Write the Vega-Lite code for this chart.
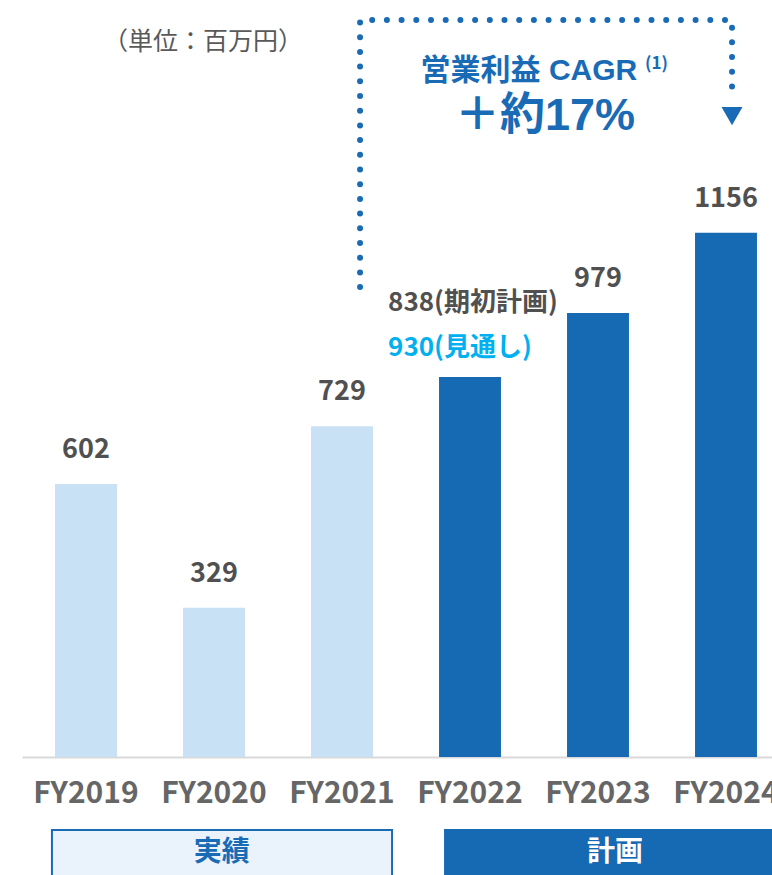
{
  "$schema": "https://vega.github.io/schema/vega-lite/v6.json",
  "width": 772,
  "height": 757,
  "autosize": {"type": "none"},
  "padding": {"left": 0, "top": 0, "right": 0, "bottom": 118},
  "background": "white",
  "config": {"view": {"stroke": null}, "font": "Noto Sans CJK JP"},
  "datasets": {
    "bars": [
      {"year": "FY2019", "value": 602, "type": "実績", "label": "602"},
      {"year": "FY2020", "value": 329, "type": "実績", "label": "329"},
      {"year": "FY2021", "value": 729, "type": "実績", "label": "729"},
      {"year": "FY2022", "value": 838, "type": "計画", "label": ""},
      {"year": "FY2023", "value": 979, "type": "計画", "label": "979"},
      {"year": "FY2024", "value": 1156, "type": "計画", "label": "1156"}
    ],
    "path": [
      {"order": 1, "xi": 2.141, "v": 1036},
      {"order": 2, "xi": 2.141, "v": 1625},
      {"order": 3, "xi": 5.047, "v": 1625},
      {"order": 4, "xi": 5.047, "v": 1455}
    ],
    "boxes": [
      {"name": "実績", "x1": -0.266, "x2": 2.391, "y1": -161, "y2": -266, "tx": 1.06, "ty": -212},
      {"name": "計画", "x1": 2.805, "x2": 5.6, "y1": -161, "y2": -266, "tx": 4.133, "ty": -212}
    ]
  },
  "layer": [
    {
      "data": {"name": "bars"},
      "mark": {"type": "bar"},
      "encoding": {
        "x": {"field": "year", "type": "nominal", "sort": null,
          "scale": {"range": [22, 790], "paddingInner": 0.516, "paddingOuter": 0.258},
          "axis": {"title": null, "ticks": false, "labelAngle": 0, "labelFontSize": 30, "labelFontWeight": "bold",
            "labelColor": "#666666", "labelPadding": 21, "domainColor": "#d9d9d9", "domainWidth": 2, "labelFont": "Noto Sans CJK JP"}},
        "y": {"field": "value", "type": "quantitative", "scale": {"domain": [0, 1669], "nice": false, "zero": true}, "axis": null},
        "color": {"field": "type", "type": "nominal", "scale": {"domain": ["実績", "計画"], "range": ["#c8e1f5", "#166ab3"]}, "legend": null}
      }
    },
    {
      "data": {"name": "bars"},
      "mark": {"type": "text", "dy": -34, "fontSize": 27, "fontWeight": "bold", "color": "#505050", "baseline": "middle"},
      "encoding": {
        "x": {"field": "year", "type": "nominal", "sort": null,
          "scale": {"range": [22, 790], "paddingInner": 0.516, "paddingOuter": 0.258}, "axis": null},
        "y": {"field": "value", "type": "quantitative", "scale": {"domain": [0, 1669], "nice": false}, "axis": null},
        "text": {"field": "label"}
      }
    },
    {
      "data": {"values": [
        {"t": "838(期初計画)", "xi": 2.36, "v": 1001, "kind": "plan"},
        {"t": "930(見通し)", "xi": 2.36, "v": 902, "kind": "outlook"}
      ]},
      "mark": {"type": "text", "align": "left", "baseline": "middle", "fontSize": 26, "fontWeight": "bold"},
      "encoding": {
        "x": {"field": "xi", "type": "quantitative", "scale": {"domain": [-0.5, 5.5], "range": [22, 790], "nice": false, "zero": false}, "axis": null},
        "y": {"field": "v", "type": "quantitative", "scale": {"domain": [0, 1669], "nice": false}, "axis": null},
        "text": {"field": "t"},
        "color": {"field": "kind", "type": "nominal", "scale": {"domain": ["plan", "outlook"], "range": ["#505050", "#00b0f0"]}, "legend": null}
      }
    },
    {
      "data": {"values": [{"t": "（単位：百万円）", "xi": 0.914, "v": 1577}]},
      "mark": {"type": "text", "align": "center", "baseline": "middle", "fontSize": 25, "color": "#595959"},
      "encoding": {
        "x": {"field": "xi", "type": "quantitative", "scale": {"domain": [-0.5, 5.5], "range": [22, 790], "nice": false, "zero": false}, "axis": null},
        "y": {"field": "v", "type": "quantitative", "scale": {"domain": [0, 1669], "nice": false}, "axis": null},
        "text": {"field": "t"}
      }
    },
    {
      "data": {"name": "path"},
      "mark": {"type": "line", "color": "#1a6bb5", "strokeWidth": 6, "strokeDash": [0, 14.7], "strokeCap": "round"},
      "encoding": {
        "x": {"field": "xi", "type": "quantitative", "scale": {"domain": [-0.5, 5.5], "range": [22, 790], "nice": false, "zero": false}, "axis": null},
        "y": {"field": "v", "type": "quantitative", "scale": {"domain": [0, 1669], "nice": false}, "axis": null},
        "order": {"field": "order", "type": "quantitative"}
      }
    },
    {
      "data": {"values": [{"xi": 5.047, "v": 1413}]},
      "mark": {"type": "point", "shape": "triangle-down", "filled": true, "size": 440, "color": "#1a6bb5", "opacity": 1},
      "encoding": {
        "x": {"field": "xi", "type": "quantitative", "scale": {"domain": [-0.5, 5.5], "range": [22, 790], "nice": false, "zero": false}, "axis": null},
        "y": {"field": "v", "type": "quantitative", "scale": {"domain": [0, 1669], "nice": false}, "axis": null}
      }
    },
    {
      "data": {"values": [{"t": "営業利益 CAGR", "xi": 3.46, "v": 1512}]},
      "mark": {"type": "text", "align": "center", "baseline": "middle", "fontSize": 30, "fontWeight": "bold", "color": "#1a6bb5", "font": "Liberation Sans, Noto Sans CJK JP"},
      "encoding": {
        "x": {"field": "xi", "type": "quantitative", "scale": {"domain": [-0.5, 5.5], "range": [22, 790], "nice": false, "zero": false}, "axis": null},
        "y": {"field": "v", "type": "quantitative", "scale": {"domain": [0, 1669], "nice": false}, "axis": null},
        "text": {"field": "t"}
      }
    },
    {
      "data": {"values": [{"t": "(1)", "xi": 4.368, "v": 1528}]},
      "mark": {"type": "text", "align": "left", "baseline": "middle", "fontSize": 17, "fontWeight": "bold", "color": "#1a6bb5"},
      "encoding": {
        "x": {"field": "xi", "type": "quantitative", "scale": {"domain": [-0.5, 5.5], "range": [22, 790], "nice": false, "zero": false}, "axis": null},
        "y": {"field": "v", "type": "quantitative", "scale": {"domain": [0, 1669], "nice": false}, "axis": null},
        "text": {"field": "t"}
      }
    },
    {
      "data": {"values": [{"t": "＋約17%", "xi": 3.586, "v": 1413}]},
      "mark": {"type": "text", "align": "center", "baseline": "middle", "fontSize": 45, "fontWeight": "bold", "color": "#1a6bb5", "font": "Liberation Sans, Noto Sans CJK JP"},
      "encoding": {
        "x": {"field": "xi", "type": "quantitative", "scale": {"domain": [-0.5, 5.5], "range": [22, 790], "nice": false, "zero": false}, "axis": null},
        "y": {"field": "v", "type": "quantitative", "scale": {"domain": [0, 1669], "nice": false}, "axis": null},
        "text": {"field": "t"}
      }
    },
    {
      "data": {"name": "boxes"},
      "mark": {"type": "rect", "strokeWidth": 2},
      "encoding": {
        "x": {"field": "x1", "type": "quantitative", "scale": {"domain": [-0.5, 5.5], "range": [22, 790], "nice": false, "zero": false}, "axis": null},
        "x2": {"field": "x2"},
        "y": {"field": "y1", "type": "quantitative", "scale": {"domain": [0, 1669], "nice": false}, "axis": null},
        "y2": {"field": "y2"},
        "fill": {"field": "name", "type": "nominal", "scale": {"domain": ["実績", "計画"], "range": ["#eaf3fb", "#166ab3"]}, "legend": null},
        "stroke": {"field": "name", "type": "nominal", "scale": {"domain": ["実績", "計画"], "range": ["#1a6bb5", "#166ab3"]}, "legend": null}
      }
    },
    {
      "data": {"name": "boxes"},
      "mark": {"type": "text", "align": "center", "baseline": "middle", "fontSize": 28, "fontWeight": "bold"},
      "encoding": {
        "x": {"field": "tx", "type": "quantitative", "scale": {"domain": [-0.5, 5.5], "range": [22, 790], "nice": false, "zero": false}, "axis": null},
        "y": {"field": "ty", "type": "quantitative", "scale": {"domain": [0, 1669], "nice": false}, "axis": null},
        "text": {"field": "name"},
        "color": {"field": "name", "type": "nominal", "scale": {"domain": ["実績", "計画"], "range": ["#1a6bb5", "#ffffff"]}, "legend": null}
      }
    }
  ],
  "resolve": {"scale": {"x": "independent", "color": "independent", "fill": "independent", "stroke": "independent"}, "axis": {"x": "independent"}}
}
